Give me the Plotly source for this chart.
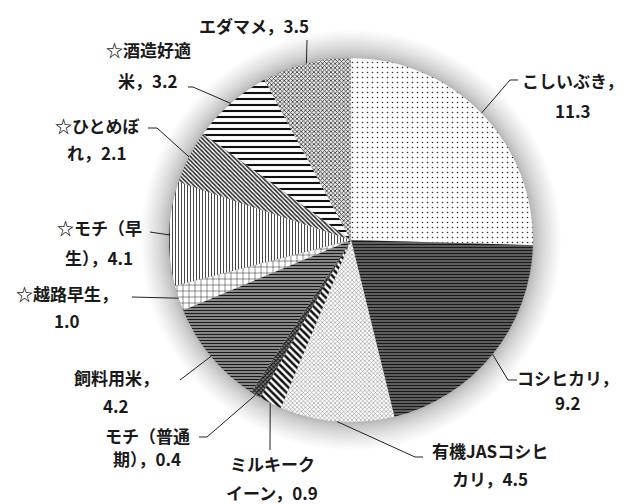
import plotly.graph_objects as go
import math

# ---- data ----
categories = ["こしいぶき", "コシヒカリ", "有機JASコシヒカリ", "ミルキークイーン", "モチ（普通期）",
              "飼料用米", "☆越路早生", "☆モチ（早生）", "☆ひとめぼれ", "☆酒造好適米", "エダマメ"]
values = [11.3, 9.2, 4.5, 0.9, 0.4, 4.2, 1.0, 4.1, 2.1, 3.2, 3.5]
label_lines = [
    ["こしいぶき，", "11.3"],
    ["コシヒカリ，", "9.2"],
    ["有機JASコシヒ", "カリ，4.5"],
    ["ミルキーク", "イーン，0.9"],
    ["モチ（普通", "期），0.4"],
    ["飼料用米，", "4.2"],
    ["☆越路早生，", "1.0"],
    ["☆モチ（早", "生），4.1"],
    ["☆ひとめぼ", "れ，2.1"],
    ["☆酒造好適", "米，3.2"],
    ["エダマメ，3.5"],
]

# ---- styles / layout ----
W, H = 624, 504
CX, CY, R = 351, 240, 182

pat_shape = [".", "-", "x", "\\", "x", "-", "+", "|", "\\", "-", "x"]
pat_fg = ["#333", "#1a1a1a", "#777", "#111", "#111", "#1a1a1a", "#111", "#333", "#222", "#111", "#333"]
pat_bg = ["white", "#8a8a8a", "white", "white", "#777", "#cfcfcf", "white", "white", "white", "white", "#e8e8e8"]
pat_size = [5, 3, 3, 5, 3, 3, 6, 3, 3, 6, 3]
pat_sol = [0.08, 0.6, 0.3, 0.5, 0.5, 0.6, 0.15, 0.3, 0.5, 0.35, 0.45]

# label text positions (pixel): center x, y of each line
label_pos = [
    (573, [80, 110]),
    (568, [377, 402]),
    (490, [450, 478]),
    (272, [463, 492]),
    (147, [435, 458]),
    (116, [377, 405]),
    (67, [293, 320]),
    (99, [228, 257]),
    (97, [125, 152]),
    (148, [50, 80]),
    (254, [25]),
]
# leader line elbow/end points (pixel)
leader_pts = [
    [(510, 80), (518, 80)],
    [(508, 380), (517, 380)],
    [(415, 457), (423, 457)],
    [(270, 450)],
    [(207, 437), (199, 437)],
    [(180, 380)],
    [(132, 297)],
    [(170, 235), (150, 232)],
    [(157, 128), (148, 128)],
    [(193, 87), (188, 87)],
    [(307, 40)],
]


def px(x):
    return x / W


def py(y):
    return 1 - y / H


fig = go.Figure(go.Pie(
    labels=categories,
    values=values,
    sort=False,
    direction="clockwise",
    rotation=0,
    textinfo="none",
    hoverinfo="label+value",
    showlegend=False,
    marker=dict(
        colors=pat_bg,
        line=dict(color="#999", width=0.1),
        pattern=dict(shape=pat_shape, fgcolor=pat_fg, bgcolor=pat_bg,
                     size=pat_size, solidity=pat_sol, fillmode="replace"),
    ),
    domain=dict(x=[px(CX - R), px(CX + R)], y=[py(CY + R), py(CY - R)]),
))

shapes = []
# soft shadow around the pie
N = 26
SPREAD = 28
for k in range(N, 0, -1):
    rr = R + SPREAD * (k / N) ** 1.5
    shapes.append(dict(type="circle", xref="paper", yref="paper",
                       x0=px(CX - rr), x1=px(CX + rr), y0=py(CY + rr), y1=py(CY - rr),
                       fillcolor="black", opacity=0.012, line=dict(width=0), layer="below"))

# leader lines start at slice mid-angle on the rim (computed from data)
total = sum(values)
cum = 0
annotations = []
for i, v in enumerate(values):
    mid = (cum + v / 2) / total * 2 * math.pi
    cum += v
    sx = CX + R * math.sin(mid)
    sy = CY - R * math.cos(mid)
    pts = [(sx, sy)] + leader_pts[i]
    path = "M " + " L ".join(f"{px(x):.5f},{py(y):.5f}" for x, y in pts)
    shapes.append(dict(type="path", xref="paper", yref="paper", path=path,
                       line=dict(color="#222", width=1)))
    cx, ys = label_pos[i]
    for line, yy in zip(label_lines[i], ys):
        annotations.append(dict(text=line, x=px(cx), y=py(yy), xref="paper", yref="paper",
                                xanchor="center", yanchor="middle", showarrow=False,
                                font=dict(family="Noto Sans CJK JP", size=17, weight="bold",
                                          color="#1a1a1a")))

fig.update_layout(
    width=W, height=H,
    margin=dict(l=0, r=0, t=0, b=0),
    paper_bgcolor="white", plot_bgcolor="white",
    shapes=shapes, annotations=annotations,
)
fig.write_html("out.html")
